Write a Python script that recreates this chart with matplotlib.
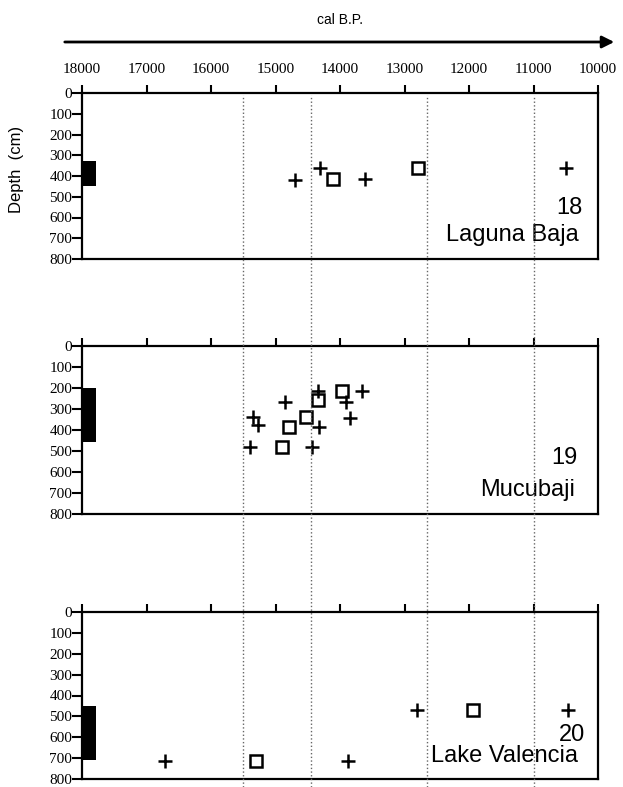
import matplotlib
matplotlib.use('Agg')
import matplotlib.pyplot as plt

# 칼 B.P. 연대 vs 깊이 - 세 호수 코어
years_ticks = [18000, 17000, 16000, 15000, 14000, 13000, 12000, 11000, 10000]
depth_ticks = [0, 100, 200, 300, 400, 500, 600, 700, 800]
boundaries = [15500, 14450, 12650, 11000]

sites = ['Laguna Baja', 'Mucubaji', 'Lake Valencia']
site_numbers = ['18', '19', '20']

# + markers
plus_years = [
    [14700, 14310, 13615, 10490],
    [15350, 15270, 15400, 14855, 14430, 14340, 13665, 13900, 13845, 14320],
    [16715, 12810, 10460, 13870],
]
plus_depths = [
    [419, 363, 416, 363],
    [337, 376, 480, 265, 483, 214, 214, 265, 344, 384],
    [715, 468, 468, 715],
]
# open square markers
square_years = [
    [14105, 12790],
    [14790, 14905, 14530, 14340, 13975],
    [15300, 11945],
]
square_depths = [
    [416, 360],
    [384, 483, 340, 257, 214],
    [712, 468],
]
# black bar at 18000 (depth range)
bar_top = [330, 200, 450]
bar_bottom = [450, 455, 708]

W, H = 623, 787
fig = plt.figure(figsize=(W / 100, H / 100), dpi=100)

serif = 'Liberation Serif'
sans = 'Liberation Sans'

x0, x1 = 82, 598
panels = [(93, 259), (346, 514), (612, 779)]
label_pos = [(0.969, 0.307, 0.963, 0.145),
             (0.961, 0.333, 0.955, 0.143),
             (0.975, 0.266, 0.961, 0.136)]

for i, (ytop, ybot) in enumerate(panels):
    ax = fig.add_axes([x0 / W, 1 - ybot / H, (x1 - x0) / W, (ybot - ytop) / H])
    ax.set_facecolor('none')
    ax.set_xlim(18000, 10000)
    ax.set_ylim(800, 0)
    ax.set_xticks(years_ticks)
    ax.set_yticks(depth_ticks)
    ax.xaxis.tick_top()
    ax.tick_params(axis='x', direction='out', length=6, width=1.5,
                   labeltop=(i == 0), labelbottom=False, pad=6,
                   labelfontfamily=serif, labelsize=11)
    ax.tick_params(axis='y', direction='out', length=7, width=1.5, pad=0,
                   labelfontfamily=serif, labelsize=11)
    for sp in ax.spines.values():
        sp.set_linewidth(1.6)

    ax.bar(18000, bar_bottom[i] - bar_top[i], bottom=bar_top[i], width=-210,
           align='edge', color='black')
    ax.plot(plus_years[i], plus_depths[i], linestyle='none', marker='+',
            markersize=10, markeredgewidth=1.8, color='black')
    ax.plot(square_years[i], square_depths[i], linestyle='none', marker='s',
            markersize=8, markeredgewidth=1.8, markerfacecolor='none',
            markeredgecolor='black')

    nx, ny, sx, sy = label_pos[i]
    ax.text(nx, ny, site_numbers[i], transform=ax.transAxes, ha='right',
            va='center', fontsize=17, family=sans)
    ax.text(sx, sy, sites[i], transform=ax.transAxes, ha='right',
            va='center', fontsize=17, family=sans)

# dotted boundary lines across all panels
ov = fig.add_axes([x0 / W, 0, (x1 - x0) / W, 1 - 95 / H])
ov.set_xlim(18000, 10000)
ov.set_ylim(0, 1)
ov.set_axis_off()
ov.vlines(boundaries, 0, 1, colors='#666666', linestyles=':', linewidth=1.0)

fig.text(17 / W, 1 - 169 / H, 'Depth  (cm)', rotation=90, ha='center',
         va='center', fontsize=12, family=sans)
fig.text(340 / W, 1 - 20 / H, 'cal B.P.', ha='center', va='center',
         fontsize=10, family=sans)
fig.add_artist(matplotlib.patches.FancyArrowPatch(
    (62 / W, 1 - 42 / H), (617 / W, 1 - 42 / H), transform=fig.transFigure,
    arrowstyle='-|>', mutation_scale=18, linewidth=2, color='black'))

fig.savefig('out.png', dpi=100)
